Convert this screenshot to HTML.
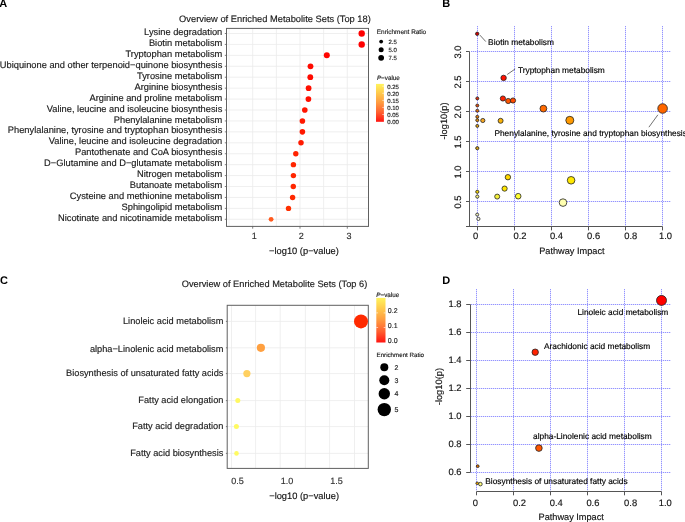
<!DOCTYPE html>
<html><head><meta charset="utf-8"><style>
html,body{margin:0;padding:0;background:#fff;width:685px;height:522px;overflow:hidden}
svg{display:block;will-change:transform}
text{text-rendering:geometricPrecision;font-family:"Liberation Sans", sans-serif}
</style></head><body>
<svg width="685" height="522" viewBox="0 0 685 522">
<rect width="685" height="522" fill="#fff"/>
<text x="-0.70" y="7.00" font-size="11" fill="#000" font-weight="bold">A</text>
<text x="442.30" y="7.00" font-size="11" fill="#000" font-weight="bold">B</text>
<text x="0.00" y="283.50" font-size="11" fill="#000" font-weight="bold">C</text>
<text x="442.20" y="283.50" font-size="11" fill="#000" font-weight="bold">D</text>
<text x="179.10" y="21.80" font-size="9.3" fill="#1a1a1a" stroke="#1a1a1a" stroke-width="0.15">Overview of Enriched Metabolite Sets (Top 18)</text>
<line x1="229.05" y1="28.40" x2="229.05" y2="226.40" stroke="#ebebeb" stroke-width="0.8"/>
<line x1="252.70" y1="28.40" x2="252.70" y2="226.40" stroke="#ebebeb" stroke-width="0.8"/>
<line x1="276.35" y1="28.40" x2="276.35" y2="226.40" stroke="#ebebeb" stroke-width="0.8"/>
<line x1="300.00" y1="28.40" x2="300.00" y2="226.40" stroke="#ebebeb" stroke-width="0.8"/>
<line x1="323.65" y1="28.40" x2="323.65" y2="226.40" stroke="#ebebeb" stroke-width="0.8"/>
<line x1="347.30" y1="28.40" x2="347.30" y2="226.40" stroke="#ebebeb" stroke-width="0.8"/>
<line x1="226.50" y1="33.50" x2="368.50" y2="33.50" stroke="#ebebeb" stroke-width="0.8"/>
<line x1="226.50" y1="44.43" x2="368.50" y2="44.43" stroke="#ebebeb" stroke-width="0.8"/>
<line x1="226.50" y1="55.36" x2="368.50" y2="55.36" stroke="#ebebeb" stroke-width="0.8"/>
<line x1="226.50" y1="66.29" x2="368.50" y2="66.29" stroke="#ebebeb" stroke-width="0.8"/>
<line x1="226.50" y1="77.22" x2="368.50" y2="77.22" stroke="#ebebeb" stroke-width="0.8"/>
<line x1="226.50" y1="88.15" x2="368.50" y2="88.15" stroke="#ebebeb" stroke-width="0.8"/>
<line x1="226.50" y1="99.08" x2="368.50" y2="99.08" stroke="#ebebeb" stroke-width="0.8"/>
<line x1="226.50" y1="110.01" x2="368.50" y2="110.01" stroke="#ebebeb" stroke-width="0.8"/>
<line x1="226.50" y1="120.94" x2="368.50" y2="120.94" stroke="#ebebeb" stroke-width="0.8"/>
<line x1="226.50" y1="131.87" x2="368.50" y2="131.87" stroke="#ebebeb" stroke-width="0.8"/>
<line x1="226.50" y1="142.80" x2="368.50" y2="142.80" stroke="#ebebeb" stroke-width="0.8"/>
<line x1="226.50" y1="153.73" x2="368.50" y2="153.73" stroke="#ebebeb" stroke-width="0.8"/>
<line x1="226.50" y1="164.66" x2="368.50" y2="164.66" stroke="#ebebeb" stroke-width="0.8"/>
<line x1="226.50" y1="175.59" x2="368.50" y2="175.59" stroke="#ebebeb" stroke-width="0.8"/>
<line x1="226.50" y1="186.52" x2="368.50" y2="186.52" stroke="#ebebeb" stroke-width="0.8"/>
<line x1="226.50" y1="197.45" x2="368.50" y2="197.45" stroke="#ebebeb" stroke-width="0.8"/>
<line x1="226.50" y1="208.38" x2="368.50" y2="208.38" stroke="#ebebeb" stroke-width="0.8"/>
<line x1="226.50" y1="219.31" x2="368.50" y2="219.31" stroke="#ebebeb" stroke-width="0.8"/>
<rect x="226.5" y="28.4" width="142.00" height="198.00" fill="none" stroke="#606060" stroke-width="1"/>
<line x1="224.80" y1="33.50" x2="226.50" y2="33.50" stroke="#606060" stroke-width="0.8"/>
<line x1="224.80" y1="44.43" x2="226.50" y2="44.43" stroke="#606060" stroke-width="0.8"/>
<line x1="224.80" y1="55.36" x2="226.50" y2="55.36" stroke="#606060" stroke-width="0.8"/>
<line x1="224.80" y1="66.29" x2="226.50" y2="66.29" stroke="#606060" stroke-width="0.8"/>
<line x1="224.80" y1="77.22" x2="226.50" y2="77.22" stroke="#606060" stroke-width="0.8"/>
<line x1="224.80" y1="88.15" x2="226.50" y2="88.15" stroke="#606060" stroke-width="0.8"/>
<line x1="224.80" y1="99.08" x2="226.50" y2="99.08" stroke="#606060" stroke-width="0.8"/>
<line x1="224.80" y1="110.01" x2="226.50" y2="110.01" stroke="#606060" stroke-width="0.8"/>
<line x1="224.80" y1="120.94" x2="226.50" y2="120.94" stroke="#606060" stroke-width="0.8"/>
<line x1="224.80" y1="131.87" x2="226.50" y2="131.87" stroke="#606060" stroke-width="0.8"/>
<line x1="224.80" y1="142.80" x2="226.50" y2="142.80" stroke="#606060" stroke-width="0.8"/>
<line x1="224.80" y1="153.73" x2="226.50" y2="153.73" stroke="#606060" stroke-width="0.8"/>
<line x1="224.80" y1="164.66" x2="226.50" y2="164.66" stroke="#606060" stroke-width="0.8"/>
<line x1="224.80" y1="175.59" x2="226.50" y2="175.59" stroke="#606060" stroke-width="0.8"/>
<line x1="224.80" y1="186.52" x2="226.50" y2="186.52" stroke="#606060" stroke-width="0.8"/>
<line x1="224.80" y1="197.45" x2="226.50" y2="197.45" stroke="#606060" stroke-width="0.8"/>
<line x1="224.80" y1="208.38" x2="226.50" y2="208.38" stroke="#606060" stroke-width="0.8"/>
<line x1="224.80" y1="219.31" x2="226.50" y2="219.31" stroke="#606060" stroke-width="0.8"/>
<line x1="252.70" y1="226.40" x2="252.70" y2="228.70" stroke="#606060" stroke-width="0.8"/>
<line x1="300.00" y1="226.40" x2="300.00" y2="228.70" stroke="#606060" stroke-width="0.8"/>
<line x1="347.30" y1="226.40" x2="347.30" y2="228.70" stroke="#606060" stroke-width="0.8"/>
<text x="222.30" y="34.70" font-size="9.3" fill="#1a1a1a" text-anchor="end" stroke="#1a1a1a" stroke-width="0.15">Lysine degradation</text>
<circle cx="361.70" cy="33.50" r="3.2" fill="#ff0000"/>
<text x="222.30" y="46.23" font-size="9.3" fill="#1a1a1a" text-anchor="end" stroke="#1a1a1a" stroke-width="0.15">Biotin metabolism</text>
<circle cx="361.70" cy="44.43" r="3.2" fill="#ff0000"/>
<text x="222.30" y="57.46" font-size="9.3" fill="#1a1a1a" text-anchor="end" stroke="#1a1a1a" stroke-width="0.15">Tryptophan metabolism</text>
<circle cx="326.80" cy="55.36" r="3.0" fill="#ff0500"/>
<text x="222.30" y="68.39" font-size="9.3" fill="#1a1a1a" text-anchor="end" stroke="#1a1a1a" stroke-width="0.15">Ubiquinone and other terpenoid−quinone biosynthesis</text>
<circle cx="310.50" cy="66.29" r="2.9" fill="#ff0a00"/>
<text x="222.30" y="79.32" font-size="9.3" fill="#1a1a1a" text-anchor="end" stroke="#1a1a1a" stroke-width="0.15">Tyrosine metabolism</text>
<circle cx="310.30" cy="77.22" r="2.9" fill="#ff0a00"/>
<text x="222.30" y="90.25" font-size="9.3" fill="#1a1a1a" text-anchor="end" stroke="#1a1a1a" stroke-width="0.15">Arginine biosynthesis</text>
<circle cx="308.60" cy="88.15" r="2.85" fill="#ff0f00"/>
<text x="222.30" y="101.18" font-size="9.3" fill="#1a1a1a" text-anchor="end" stroke="#1a1a1a" stroke-width="0.15">Arginine and proline metabolism</text>
<circle cx="308.40" cy="99.08" r="2.85" fill="#ff0f00"/>
<text x="222.30" y="111.71" font-size="9.3" fill="#1a1a1a" text-anchor="end" stroke="#1a1a1a" stroke-width="0.15">Valine, leucine and isoleucine biosynthesis</text>
<circle cx="304.80" cy="110.01" r="2.8" fill="#ff1400"/>
<text x="222.30" y="122.64" font-size="9.3" fill="#1a1a1a" text-anchor="end" stroke="#1a1a1a" stroke-width="0.15">Phenylalanine metabolism</text>
<circle cx="302.40" cy="120.94" r="2.8" fill="#ff1800"/>
<text x="222.30" y="133.47" font-size="9.3" fill="#1a1a1a" text-anchor="end" stroke="#1a1a1a" stroke-width="0.15">Phenylalanine, tyrosine and tryptophan biosynthesis</text>
<circle cx="302.40" cy="131.87" r="2.8" fill="#ff1800"/>
<text x="222.30" y="144.40" font-size="9.3" fill="#1a1a1a" text-anchor="end" stroke="#1a1a1a" stroke-width="0.15">Valine, leucine and isoleucine degradation</text>
<circle cx="301.00" cy="142.80" r="2.75" fill="#ff1a00"/>
<text x="222.30" y="155.43" font-size="9.3" fill="#1a1a1a" text-anchor="end" stroke="#1a1a1a" stroke-width="0.15">Pantothenate and CoA biosynthesis</text>
<circle cx="295.80" cy="153.73" r="2.7" fill="#ff2200"/>
<text x="222.30" y="166.26" font-size="9.3" fill="#1a1a1a" text-anchor="end" stroke="#1a1a1a" stroke-width="0.15">D−Glutamine and D−glutamate metabolism</text>
<circle cx="293.40" cy="164.66" r="2.7" fill="#ff2600"/>
<text x="222.30" y="177.19" font-size="9.3" fill="#1a1a1a" text-anchor="end" stroke="#1a1a1a" stroke-width="0.15">Nitrogen metabolism</text>
<circle cx="293.40" cy="175.59" r="2.7" fill="#ff2600"/>
<text x="222.30" y="188.22" font-size="9.3" fill="#1a1a1a" text-anchor="end" stroke="#1a1a1a" stroke-width="0.15">Butanoate metabolism</text>
<circle cx="293.30" cy="186.52" r="2.7" fill="#ff2600"/>
<text x="222.30" y="198.55" font-size="9.3" fill="#1a1a1a" text-anchor="end" stroke="#1a1a1a" stroke-width="0.15">Cysteine and methionine metabolism</text>
<circle cx="292.60" cy="197.45" r="2.7" fill="#ff2800"/>
<text x="222.30" y="210.28" font-size="9.3" fill="#1a1a1a" text-anchor="end" stroke="#1a1a1a" stroke-width="0.15">Sphingolipid metabolism</text>
<circle cx="288.50" cy="208.38" r="2.7" fill="#ff3000"/>
<text x="222.30" y="220.81" font-size="9.3" fill="#1a1a1a" text-anchor="end" stroke="#1a1a1a" stroke-width="0.15">Nicotinate and nicotinamide metabolism</text>
<circle cx="271.10" cy="219.31" r="2.4" fill="#ff5a1e"/>
<text x="254.20" y="238.70" font-size="9" fill="#303030" text-anchor="middle" stroke="#303030" stroke-width="0.15">1</text>
<text x="301.30" y="238.70" font-size="9" fill="#303030" text-anchor="middle" stroke="#303030" stroke-width="0.15">2</text>
<text x="349.00" y="238.70" font-size="9" fill="#303030" text-anchor="middle" stroke="#303030" stroke-width="0.15">3</text>
<text x="304.00" y="253.70" font-size="9.3" fill="#111" text-anchor="middle" stroke="#111" stroke-width="0.15">−log10 (p−value)</text>
<text x="376.80" y="33.80" font-size="6.45" fill="#1a1a1a" stroke="#1a1a1a" stroke-width="0.15">Enrichment Ratio</text>
<circle cx="381.15" cy="41.60" r="1.9" fill="#000"/>
<text x="388.40" y="43.70" font-size="6" fill="#222" stroke="#222" stroke-width="0.15">2.5</text>
<circle cx="381.15" cy="49.80" r="2.5" fill="#000"/>
<text x="388.40" y="51.90" font-size="6" fill="#222" stroke="#222" stroke-width="0.15">5.0</text>
<circle cx="381.15" cy="57.80" r="2.9" fill="#000"/>
<text x="388.40" y="59.90" font-size="6" fill="#222" stroke="#222" stroke-width="0.15">7.5</text>
<defs><linearGradient id="pg" x1="0" y1="1" x2="0" y2="0"><stop offset="0" stop-color="#ff1410"/><stop offset="0.25" stop-color="#ff6030"/><stop offset="0.5" stop-color="#ff9a40"/><stop offset="0.75" stop-color="#ffc84c"/><stop offset="1" stop-color="#fff45c"/></linearGradient></defs>
<text x="376.90" y="80.20" font-size="6.3" fill="#1a1a1a" stroke="#1a1a1a" stroke-width="0.15"><tspan font-style="italic">P</tspan>−value</text>
<rect x="376" y="83.9" width="7.9" height="37.9" fill="url(#pg)"/>
<text x="387.20" y="88.50" font-size="6" fill="#222" stroke="#222" stroke-width="0.15">0.25</text>
<line x1="382.30" y1="86.20" x2="383.90" y2="86.20" stroke="#fff" stroke-width="0.6"/>
<text x="387.20" y="95.58" font-size="6" fill="#222" stroke="#222" stroke-width="0.15">0.20</text>
<line x1="382.30" y1="93.28" x2="383.90" y2="93.28" stroke="#fff" stroke-width="0.6"/>
<text x="387.20" y="102.66" font-size="6" fill="#222" stroke="#222" stroke-width="0.15">0.15</text>
<line x1="382.30" y1="100.36" x2="383.90" y2="100.36" stroke="#fff" stroke-width="0.6"/>
<text x="387.20" y="109.74" font-size="6" fill="#222" stroke="#222" stroke-width="0.15">0.10</text>
<line x1="382.30" y1="107.44" x2="383.90" y2="107.44" stroke="#fff" stroke-width="0.6"/>
<text x="387.20" y="116.82" font-size="6" fill="#222" stroke="#222" stroke-width="0.15">0.05</text>
<line x1="382.30" y1="114.52" x2="383.90" y2="114.52" stroke="#fff" stroke-width="0.6"/>
<text x="387.20" y="123.90" font-size="6" fill="#222" stroke="#222" stroke-width="0.15">0.00</text>
<text x="181.70" y="286.80" font-size="9.25" fill="#1a1a1a" stroke="#1a1a1a" stroke-width="0.15">Overview of Enriched Metabolite Sets (Top 6)</text>
<line x1="231.50" y1="305.30" x2="231.50" y2="468.40" stroke="#ebebeb" stroke-width="0.8"/>
<line x1="255.60" y1="305.30" x2="255.60" y2="468.40" stroke="#ebebeb" stroke-width="0.8"/>
<line x1="280.20" y1="305.30" x2="280.20" y2="468.40" stroke="#ebebeb" stroke-width="0.8"/>
<line x1="305.40" y1="305.30" x2="305.40" y2="468.40" stroke="#ebebeb" stroke-width="0.8"/>
<line x1="329.60" y1="305.30" x2="329.60" y2="468.40" stroke="#ebebeb" stroke-width="0.8"/>
<line x1="354.50" y1="305.30" x2="354.50" y2="468.40" stroke="#ebebeb" stroke-width="0.8"/>
<line x1="227.20" y1="321.40" x2="368.30" y2="321.40" stroke="#ebebeb" stroke-width="0.8"/>
<line x1="227.20" y1="347.80" x2="368.30" y2="347.80" stroke="#ebebeb" stroke-width="0.8"/>
<line x1="227.20" y1="373.60" x2="368.30" y2="373.60" stroke="#ebebeb" stroke-width="0.8"/>
<line x1="227.20" y1="400.60" x2="368.30" y2="400.60" stroke="#ebebeb" stroke-width="0.8"/>
<line x1="227.20" y1="426.60" x2="368.30" y2="426.60" stroke="#ebebeb" stroke-width="0.8"/>
<line x1="227.20" y1="453.40" x2="368.30" y2="453.40" stroke="#ebebeb" stroke-width="0.8"/>
<rect x="227.2" y="305.3" width="141.10" height="163.10" fill="none" stroke="#606060" stroke-width="1"/>
<line x1="225.90" y1="321.40" x2="227.20" y2="321.40" stroke="#606060" stroke-width="0.8"/>
<text x="223.40" y="324.10" font-size="9.22" fill="#1a1a1a" text-anchor="end" stroke="#1a1a1a" stroke-width="0.15">Linoleic acid metabolism</text>
<circle cx="361.00" cy="321.40" r="7.0" fill="#ff2a00"/>
<line x1="225.90" y1="347.80" x2="227.20" y2="347.80" stroke="#606060" stroke-width="0.8"/>
<text x="223.40" y="351.60" font-size="9.22" fill="#1a1a1a" text-anchor="end" stroke="#1a1a1a" stroke-width="0.15">alpha−Linolenic acid metabolism</text>
<circle cx="260.90" cy="347.80" r="4.1" fill="#ffa040"/>
<line x1="225.90" y1="373.60" x2="227.20" y2="373.60" stroke="#606060" stroke-width="0.8"/>
<text x="223.40" y="375.65" font-size="9.22" fill="#1a1a1a" text-anchor="end" stroke="#1a1a1a" stroke-width="0.15">Biosynthesis of unsaturated fatty acids</text>
<circle cx="246.90" cy="373.60" r="3.6" fill="#ffd060"/>
<line x1="225.90" y1="400.60" x2="227.20" y2="400.60" stroke="#606060" stroke-width="0.8"/>
<text x="223.40" y="403.35" font-size="9.22" fill="#1a1a1a" text-anchor="end" stroke="#1a1a1a" stroke-width="0.15">Fatty acid elongation</text>
<circle cx="237.80" cy="400.60" r="2.5" fill="#fff862"/>
<line x1="225.90" y1="426.60" x2="227.20" y2="426.60" stroke="#606060" stroke-width="0.8"/>
<text x="223.40" y="428.60" font-size="9.22" fill="#1a1a1a" text-anchor="end" stroke="#1a1a1a" stroke-width="0.15">Fatty acid degradation</text>
<circle cx="236.40" cy="426.60" r="2.5" fill="#fffa62"/>
<line x1="225.90" y1="453.40" x2="227.20" y2="453.40" stroke="#606060" stroke-width="0.8"/>
<text x="223.40" y="456.40" font-size="9.22" fill="#1a1a1a" text-anchor="end" stroke="#1a1a1a" stroke-width="0.15">Fatty acid biosynthesis</text>
<circle cx="236.50" cy="453.40" r="2.3" fill="#fffb62"/>
<text x="237.60" y="483.60" font-size="9" fill="#303030" text-anchor="middle" stroke="#303030" stroke-width="0.15">0.5</text>
<text x="287.00" y="483.60" font-size="9" fill="#303030" text-anchor="middle" stroke="#303030" stroke-width="0.15">1.0</text>
<text x="336.60" y="483.60" font-size="9" fill="#303030" text-anchor="middle" stroke="#303030" stroke-width="0.15">1.5</text>
<text x="304.10" y="498.70" font-size="9.3" fill="#111" text-anchor="middle" stroke="#111" stroke-width="0.15">−log10 (p−value)</text>
<text x="376.30" y="296.50" font-size="6.3" fill="#1a1a1a" stroke="#1a1a1a" stroke-width="0.15"><tspan font-style="italic">P</tspan>−value</text>
<rect x="376.3" y="297.9" width="9.2" height="44.6" fill="url(#pg)"/>
<text x="387.80" y="313.00" font-size="7" fill="#222" stroke="#222" stroke-width="0.15">0.2</text>
<line x1="383.70" y1="312.90" x2="385.50" y2="312.90" stroke="#fff" stroke-width="0.6"/>
<line x1="376.30" y1="312.90" x2="378.10" y2="312.90" stroke="#fff" stroke-width="0.6"/>
<text x="387.80" y="327.50" font-size="7" fill="#222" stroke="#222" stroke-width="0.15">0.1</text>
<line x1="383.70" y1="327.50" x2="385.50" y2="327.50" stroke="#fff" stroke-width="0.6"/>
<line x1="376.30" y1="327.50" x2="378.10" y2="327.50" stroke="#fff" stroke-width="0.6"/>
<text x="387.80" y="342.50" font-size="7" fill="#222" stroke="#222" stroke-width="0.15">0.0</text>
<text x="376.50" y="356.50" font-size="6.2" fill="#1a1a1a" stroke="#1a1a1a" stroke-width="0.15">Enrichment Ratio</text>
<circle cx="384.30" cy="367.20" r="4.0" fill="#000"/>
<text x="394.40" y="369.70" font-size="7" fill="#222" stroke="#222" stroke-width="0.15">2</text>
<circle cx="384.30" cy="380.20" r="5.0" fill="#000"/>
<text x="394.40" y="382.70" font-size="7" fill="#222" stroke="#222" stroke-width="0.15">3</text>
<circle cx="384.30" cy="393.80" r="5.7" fill="#000"/>
<text x="394.40" y="396.30" font-size="7" fill="#222" stroke="#222" stroke-width="0.15">4</text>
<circle cx="384.30" cy="409.60" r="6.7" fill="#000"/>
<text x="394.40" y="412.10" font-size="7" fill="#222" stroke="#222" stroke-width="0.15">5</text>
<line x1="477.50" y1="26.00" x2="477.50" y2="226.00" stroke="#e0e0ff" stroke-width="1"/>
<line x1="477.50" y1="26.00" x2="477.50" y2="226.00" stroke="#9494ff" stroke-width="1" stroke-dasharray="1 1"/>
<line x1="514.50" y1="26.00" x2="514.50" y2="226.00" stroke="#e0e0ff" stroke-width="1"/>
<line x1="514.50" y1="26.00" x2="514.50" y2="226.00" stroke="#9494ff" stroke-width="1" stroke-dasharray="1 1"/>
<line x1="551.50" y1="26.00" x2="551.50" y2="226.00" stroke="#e0e0ff" stroke-width="1"/>
<line x1="551.50" y1="26.00" x2="551.50" y2="226.00" stroke="#9494ff" stroke-width="1" stroke-dasharray="1 1"/>
<line x1="588.50" y1="26.00" x2="588.50" y2="226.00" stroke="#e0e0ff" stroke-width="1"/>
<line x1="588.50" y1="26.00" x2="588.50" y2="226.00" stroke="#9494ff" stroke-width="1" stroke-dasharray="1 1"/>
<line x1="625.50" y1="26.00" x2="625.50" y2="226.00" stroke="#e0e0ff" stroke-width="1"/>
<line x1="625.50" y1="26.00" x2="625.50" y2="226.00" stroke="#9494ff" stroke-width="1" stroke-dasharray="1 1"/>
<line x1="662.50" y1="26.00" x2="662.50" y2="226.00" stroke="#e0e0ff" stroke-width="1"/>
<line x1="662.50" y1="26.00" x2="662.50" y2="226.00" stroke="#9494ff" stroke-width="1" stroke-dasharray="1 1"/>
<line x1="471.00" y1="201.50" x2="671.00" y2="201.50" stroke="#e0e0ff" stroke-width="1"/>
<line x1="471.00" y1="201.50" x2="671.00" y2="201.50" stroke="#9494ff" stroke-width="1" stroke-dasharray="1 1"/>
<line x1="471.00" y1="171.50" x2="671.00" y2="171.50" stroke="#e0e0ff" stroke-width="1"/>
<line x1="471.00" y1="171.50" x2="671.00" y2="171.50" stroke="#9494ff" stroke-width="1" stroke-dasharray="1 1"/>
<line x1="471.00" y1="141.50" x2="671.00" y2="141.50" stroke="#e0e0ff" stroke-width="1"/>
<line x1="471.00" y1="141.50" x2="671.00" y2="141.50" stroke="#9494ff" stroke-width="1" stroke-dasharray="1 1"/>
<line x1="471.00" y1="111.50" x2="671.00" y2="111.50" stroke="#e0e0ff" stroke-width="1"/>
<line x1="471.00" y1="111.50" x2="671.00" y2="111.50" stroke="#9494ff" stroke-width="1" stroke-dasharray="1 1"/>
<line x1="471.00" y1="81.50" x2="671.00" y2="81.50" stroke="#e0e0ff" stroke-width="1"/>
<line x1="471.00" y1="81.50" x2="671.00" y2="81.50" stroke="#9494ff" stroke-width="1" stroke-dasharray="1 1"/>
<line x1="471.00" y1="51.50" x2="671.00" y2="51.50" stroke="#e0e0ff" stroke-width="1"/>
<line x1="471.00" y1="51.50" x2="671.00" y2="51.50" stroke="#9494ff" stroke-width="1" stroke-dasharray="1 1"/>
<line x1="469.50" y1="51.50" x2="469.50" y2="226.50" stroke="#555" stroke-width="1"/>
<line x1="466.00" y1="226.50" x2="662.50" y2="226.50" stroke="#555" stroke-width="1"/>
<line x1="466.00" y1="201.50" x2="469.50" y2="201.50" stroke="#555" stroke-width="1"/>
<text transform="translate(460.6 202.10) rotate(-90)" font-size="9.4" fill="#111" stroke="#111" stroke-width="0.15" text-anchor="middle">0.5</text>
<line x1="466.00" y1="171.50" x2="469.50" y2="171.50" stroke="#555" stroke-width="1"/>
<text transform="translate(460.6 172.10) rotate(-90)" font-size="9.4" fill="#111" stroke="#111" stroke-width="0.15" text-anchor="middle">1.0</text>
<line x1="466.00" y1="141.50" x2="469.50" y2="141.50" stroke="#555" stroke-width="1"/>
<text transform="translate(460.6 142.10) rotate(-90)" font-size="9.4" fill="#111" stroke="#111" stroke-width="0.15" text-anchor="middle">1.5</text>
<line x1="466.00" y1="111.50" x2="469.50" y2="111.50" stroke="#555" stroke-width="1"/>
<text transform="translate(460.6 112.10) rotate(-90)" font-size="9.4" fill="#111" stroke="#111" stroke-width="0.15" text-anchor="middle">2.0</text>
<line x1="466.00" y1="81.50" x2="469.50" y2="81.50" stroke="#555" stroke-width="1"/>
<text transform="translate(460.6 82.10) rotate(-90)" font-size="9.4" fill="#111" stroke="#111" stroke-width="0.15" text-anchor="middle">2.5</text>
<line x1="466.00" y1="51.50" x2="469.50" y2="51.50" stroke="#555" stroke-width="1"/>
<text transform="translate(460.6 52.10) rotate(-90)" font-size="9.4" fill="#111" stroke="#111" stroke-width="0.15" text-anchor="middle">3.0</text>
<line x1="477.50" y1="226.50" x2="477.50" y2="230.40" stroke="#555" stroke-width="1"/>
<line x1="514.50" y1="226.50" x2="514.50" y2="230.40" stroke="#555" stroke-width="1"/>
<line x1="551.50" y1="226.50" x2="551.50" y2="230.40" stroke="#555" stroke-width="1"/>
<line x1="588.50" y1="226.50" x2="588.50" y2="230.40" stroke="#555" stroke-width="1"/>
<line x1="625.50" y1="226.50" x2="625.50" y2="230.40" stroke="#555" stroke-width="1"/>
<line x1="662.50" y1="226.50" x2="662.50" y2="230.40" stroke="#555" stroke-width="1"/>
<text x="475.60" y="238.50" font-size="9.4" fill="#111" text-anchor="middle" stroke="#111" stroke-width="0.15">0</text>
<text x="519.95" y="238.50" font-size="9.4" fill="#111" text-anchor="middle" stroke="#111" stroke-width="0.15">0.2</text>
<text x="556.40" y="238.50" font-size="9.4" fill="#111" text-anchor="middle" stroke="#111" stroke-width="0.15">0.4</text>
<text x="593.60" y="238.50" font-size="9.4" fill="#111" text-anchor="middle" stroke="#111" stroke-width="0.15">0.6</text>
<text x="630.70" y="238.50" font-size="9.4" fill="#111" text-anchor="middle" stroke="#111" stroke-width="0.15">0.8</text>
<text x="665.50" y="238.50" font-size="9.4" fill="#111" text-anchor="middle" stroke="#111" stroke-width="0.15">1.0</text>
<text x="571.90" y="254.00" font-size="9.2" fill="#111" text-anchor="middle" stroke="#111" stroke-width="0.15">Pathway Impact</text>
<text transform="translate(447.3 121) rotate(-90)" font-size="9.3" fill="#111" stroke="#111" stroke-width="0.15" text-anchor="middle">-log10(p)</text>
<circle cx="477.30" cy="98.40" r="1.5" fill="#e03010" stroke="#222" stroke-width="0.8"/>
<circle cx="477.30" cy="105.50" r="1.5" fill="#e05010" stroke="#222" stroke-width="0.8"/>
<circle cx="477.30" cy="110.70" r="1.5" fill="#e06a10" stroke="#222" stroke-width="0.8"/>
<circle cx="477.30" cy="116.80" r="1.5" fill="#e07a10" stroke="#222" stroke-width="0.8"/>
<circle cx="477.30" cy="120.20" r="1.5" fill="#e08a10" stroke="#222" stroke-width="0.8"/>
<circle cx="477.30" cy="125.90" r="1.5" fill="#e0a010" stroke="#222" stroke-width="0.8"/>
<circle cx="477.30" cy="148.20" r="1.6" fill="#d4a017" stroke="#222" stroke-width="0.8"/>
<circle cx="477.30" cy="191.80" r="1.6" fill="#f0d000" stroke="#222" stroke-width="0.8"/>
<circle cx="477.30" cy="196.60" r="1.6" fill="#f5f080" stroke="#222" stroke-width="0.8"/>
<circle cx="477.20" cy="214.60" r="1.5" fill="#f0f0c0" stroke="#222" stroke-width="0.8"/>
<circle cx="478.40" cy="218.90" r="1.6" fill="#fffff0" stroke="#222" stroke-width="0.8"/>
<circle cx="482.80" cy="120.50" r="2.1" fill="#f5a623" stroke="#222" stroke-width="0.8"/>
<circle cx="500.60" cy="120.80" r="2.5" fill="#f9b208" stroke="#222" stroke-width="0.8"/>
<circle cx="502.90" cy="98.50" r="2.6" fill="#ff2200" stroke="#222" stroke-width="0.8"/>
<circle cx="508.20" cy="101.00" r="2.6" fill="#ff5500" stroke="#222" stroke-width="0.8"/>
<circle cx="513.00" cy="100.50" r="2.6" fill="#ff4a00" stroke="#222" stroke-width="0.8"/>
<circle cx="543.40" cy="108.60" r="3.4" fill="#ff6a00" stroke="#222" stroke-width="0.8"/>
<circle cx="569.80" cy="120.30" r="4.0" fill="#ff9900" stroke="#222" stroke-width="0.8"/>
<circle cx="507.90" cy="177.20" r="2.7" fill="#ffd700" stroke="#222" stroke-width="0.8"/>
<circle cx="504.60" cy="188.60" r="2.6" fill="#ffe600" stroke="#222" stroke-width="0.8"/>
<circle cx="497.20" cy="196.60" r="2.5" fill="#f5f03a" stroke="#222" stroke-width="0.8"/>
<circle cx="518.20" cy="196.20" r="2.8" fill="#ffff30" stroke="#222" stroke-width="0.8"/>
<circle cx="571.10" cy="180.30" r="3.8" fill="#ffe800" stroke="#222" stroke-width="0.8"/>
<circle cx="563.00" cy="202.60" r="3.8" fill="#ffffb0" stroke="#222" stroke-width="0.8"/>
<circle cx="662.60" cy="108.50" r="4.8" fill="#ff6600" stroke="#222" stroke-width="0.8"/>
<circle cx="477.20" cy="33.80" r="1.7" fill="#cc0000" stroke="#222" stroke-width="0.8"/>
<circle cx="503.60" cy="77.90" r="2.7" fill="#ff1000" stroke="#222" stroke-width="0.8"/>
<line x1="479.90" y1="35.10" x2="485.80" y2="41.60" stroke="#333" stroke-width="0.7"/>
<text x="488.10" y="44.70" font-size="8.35" fill="#000" stroke="#000" stroke-width="0.15">Biotin metabolism</text>
<line x1="507.20" y1="74.50" x2="515.10" y2="69.00" stroke="#333" stroke-width="0.7"/>
<text x="517.90" y="72.90" font-size="8.35" fill="#000" stroke="#000" stroke-width="0.15">Tryptophan metabolism</text>
<line x1="657.90" y1="114.80" x2="648.90" y2="127.20" stroke="#333" stroke-width="0.7"/>
<text x="494.40" y="135.70" font-size="8.35" fill="#000" stroke="#000" stroke-width="0.15">Phenylalanine, tyrosine and tryptophan biosynthesis</text>
<line x1="476.50" y1="289.00" x2="476.50" y2="491.00" stroke="#e0e0ff" stroke-width="1"/>
<line x1="476.50" y1="289.00" x2="476.50" y2="491.00" stroke="#9494ff" stroke-width="1" stroke-dasharray="1 1"/>
<line x1="513.50" y1="289.00" x2="513.50" y2="491.00" stroke="#e0e0ff" stroke-width="1"/>
<line x1="513.50" y1="289.00" x2="513.50" y2="491.00" stroke="#9494ff" stroke-width="1" stroke-dasharray="1 1"/>
<line x1="550.50" y1="289.00" x2="550.50" y2="491.00" stroke="#e0e0ff" stroke-width="1"/>
<line x1="550.50" y1="289.00" x2="550.50" y2="491.00" stroke="#9494ff" stroke-width="1" stroke-dasharray="1 1"/>
<line x1="587.50" y1="289.00" x2="587.50" y2="491.00" stroke="#e0e0ff" stroke-width="1"/>
<line x1="587.50" y1="289.00" x2="587.50" y2="491.00" stroke="#9494ff" stroke-width="1" stroke-dasharray="1 1"/>
<line x1="624.50" y1="289.00" x2="624.50" y2="491.00" stroke="#e0e0ff" stroke-width="1"/>
<line x1="624.50" y1="289.00" x2="624.50" y2="491.00" stroke="#9494ff" stroke-width="1" stroke-dasharray="1 1"/>
<line x1="661.50" y1="289.00" x2="661.50" y2="491.00" stroke="#e0e0ff" stroke-width="1"/>
<line x1="661.50" y1="289.00" x2="661.50" y2="491.00" stroke="#9494ff" stroke-width="1" stroke-dasharray="1 1"/>
<line x1="471.00" y1="472.50" x2="671.00" y2="472.50" stroke="#e0e0ff" stroke-width="1"/>
<line x1="471.00" y1="472.50" x2="671.00" y2="472.50" stroke="#9494ff" stroke-width="1" stroke-dasharray="1 1"/>
<line x1="471.00" y1="444.50" x2="671.00" y2="444.50" stroke="#e0e0ff" stroke-width="1"/>
<line x1="471.00" y1="444.50" x2="671.00" y2="444.50" stroke="#9494ff" stroke-width="1" stroke-dasharray="1 1"/>
<line x1="471.00" y1="416.50" x2="671.00" y2="416.50" stroke="#e0e0ff" stroke-width="1"/>
<line x1="471.00" y1="416.50" x2="671.00" y2="416.50" stroke="#9494ff" stroke-width="1" stroke-dasharray="1 1"/>
<line x1="471.00" y1="388.50" x2="671.00" y2="388.50" stroke="#e0e0ff" stroke-width="1"/>
<line x1="471.00" y1="388.50" x2="671.00" y2="388.50" stroke="#9494ff" stroke-width="1" stroke-dasharray="1 1"/>
<line x1="471.00" y1="360.50" x2="671.00" y2="360.50" stroke="#e0e0ff" stroke-width="1"/>
<line x1="471.00" y1="360.50" x2="671.00" y2="360.50" stroke="#9494ff" stroke-width="1" stroke-dasharray="1 1"/>
<line x1="471.00" y1="332.50" x2="671.00" y2="332.50" stroke="#e0e0ff" stroke-width="1"/>
<line x1="471.00" y1="332.50" x2="671.00" y2="332.50" stroke="#9494ff" stroke-width="1" stroke-dasharray="1 1"/>
<line x1="471.00" y1="304.50" x2="671.00" y2="304.50" stroke="#e0e0ff" stroke-width="1"/>
<line x1="471.00" y1="304.50" x2="671.00" y2="304.50" stroke="#9494ff" stroke-width="1" stroke-dasharray="1 1"/>
<line x1="470.50" y1="304.50" x2="470.50" y2="472.50" stroke="#555" stroke-width="1"/>
<line x1="466.20" y1="472.50" x2="470.50" y2="472.50" stroke="#555" stroke-width="1"/>
<text x="461.60" y="474.50" font-size="9.4" fill="#111" text-anchor="end" stroke="#111" stroke-width="0.15">0.6</text>
<line x1="466.20" y1="444.50" x2="470.50" y2="444.50" stroke="#555" stroke-width="1"/>
<text x="461.60" y="446.50" font-size="9.4" fill="#111" text-anchor="end" stroke="#111" stroke-width="0.15">0.8</text>
<line x1="466.20" y1="416.50" x2="470.50" y2="416.50" stroke="#555" stroke-width="1"/>
<text x="461.60" y="418.50" font-size="9.4" fill="#111" text-anchor="end" stroke="#111" stroke-width="0.15">1.0</text>
<line x1="466.20" y1="388.50" x2="470.50" y2="388.50" stroke="#555" stroke-width="1"/>
<text x="461.60" y="390.50" font-size="9.4" fill="#111" text-anchor="end" stroke="#111" stroke-width="0.15">1.2</text>
<line x1="466.20" y1="360.50" x2="470.50" y2="360.50" stroke="#555" stroke-width="1"/>
<text x="461.60" y="362.50" font-size="9.4" fill="#111" text-anchor="end" stroke="#111" stroke-width="0.15">1.4</text>
<line x1="466.20" y1="332.50" x2="470.50" y2="332.50" stroke="#555" stroke-width="1"/>
<text x="461.60" y="334.50" font-size="9.4" fill="#111" text-anchor="end" stroke="#111" stroke-width="0.15">1.6</text>
<line x1="466.20" y1="304.50" x2="470.50" y2="304.50" stroke="#555" stroke-width="1"/>
<text x="461.60" y="306.50" font-size="9.4" fill="#111" text-anchor="end" stroke="#111" stroke-width="0.15">1.8</text>
<line x1="476.50" y1="491.50" x2="661.50" y2="491.50" stroke="#555" stroke-width="1"/>
<line x1="476.50" y1="491.50" x2="476.50" y2="495.30" stroke="#555" stroke-width="1"/>
<line x1="513.50" y1="491.50" x2="513.50" y2="495.30" stroke="#555" stroke-width="1"/>
<line x1="550.50" y1="491.50" x2="550.50" y2="495.30" stroke="#555" stroke-width="1"/>
<line x1="587.50" y1="491.50" x2="587.50" y2="495.30" stroke="#555" stroke-width="1"/>
<line x1="624.50" y1="491.50" x2="624.50" y2="495.30" stroke="#555" stroke-width="1"/>
<line x1="661.50" y1="491.50" x2="661.50" y2="495.30" stroke="#555" stroke-width="1"/>
<text x="475.30" y="505.70" font-size="9.4" fill="#111" text-anchor="middle" stroke="#111" stroke-width="0.15">0</text>
<text x="519.50" y="505.70" font-size="9.4" fill="#111" text-anchor="middle" stroke="#111" stroke-width="0.15">0.2</text>
<text x="556.30" y="505.70" font-size="9.4" fill="#111" text-anchor="middle" stroke="#111" stroke-width="0.15">0.4</text>
<text x="592.90" y="505.70" font-size="9.4" fill="#111" text-anchor="middle" stroke="#111" stroke-width="0.15">0.6</text>
<text x="630.60" y="505.70" font-size="9.4" fill="#111" text-anchor="middle" stroke="#111" stroke-width="0.15">0.8</text>
<text x="665.30" y="505.70" font-size="9.4" fill="#111" text-anchor="middle" stroke="#111" stroke-width="0.15">1.0</text>
<text x="571.20" y="519.60" font-size="9.2" fill="#111" text-anchor="middle" stroke="#111" stroke-width="0.15">Pathway Impact</text>
<text transform="translate(442.0 386.6) rotate(-90)" font-size="9.3" fill="#111" stroke="#111" stroke-width="0.15" text-anchor="middle">-log10(p)</text>
<circle cx="477.70" cy="466.20" r="1.4" fill="#e07000" stroke="#222" stroke-width="0.8"/>
<circle cx="477.20" cy="483.30" r="1.3" fill="#f5a800" stroke="#222" stroke-width="0.8"/>
<circle cx="480.40" cy="484.10" r="1.8" fill="#ffff80" stroke="#222" stroke-width="0.8"/>
<circle cx="538.90" cy="448.10" r="3.3" fill="#ff5500" stroke="#222" stroke-width="0.8"/>
<circle cx="535.20" cy="352.20" r="3.2" fill="#ff2200" stroke="#222" stroke-width="0.8"/>
<circle cx="661.50" cy="300.40" r="5.0" fill="#ff0000" stroke="#222" stroke-width="0.8"/>
<text x="577.40" y="315.20" font-size="8.35" fill="#000" stroke="#000" stroke-width="0.15">Linoleic acid metabolism</text>
<text x="544.00" y="349.30" font-size="8.35" fill="#000" stroke="#000" stroke-width="0.15">Arachidonic acid metabolism</text>
<text x="533.00" y="439.30" font-size="8.35" fill="#000" stroke="#000" stroke-width="0.15">alpha-Linolenic acid metabolism</text>
<text x="485.30" y="483.90" font-size="8.35" fill="#000" stroke="#000" stroke-width="0.15">Biosynthesis of unsaturated fatty acids</text>
</svg>
</body></html>
